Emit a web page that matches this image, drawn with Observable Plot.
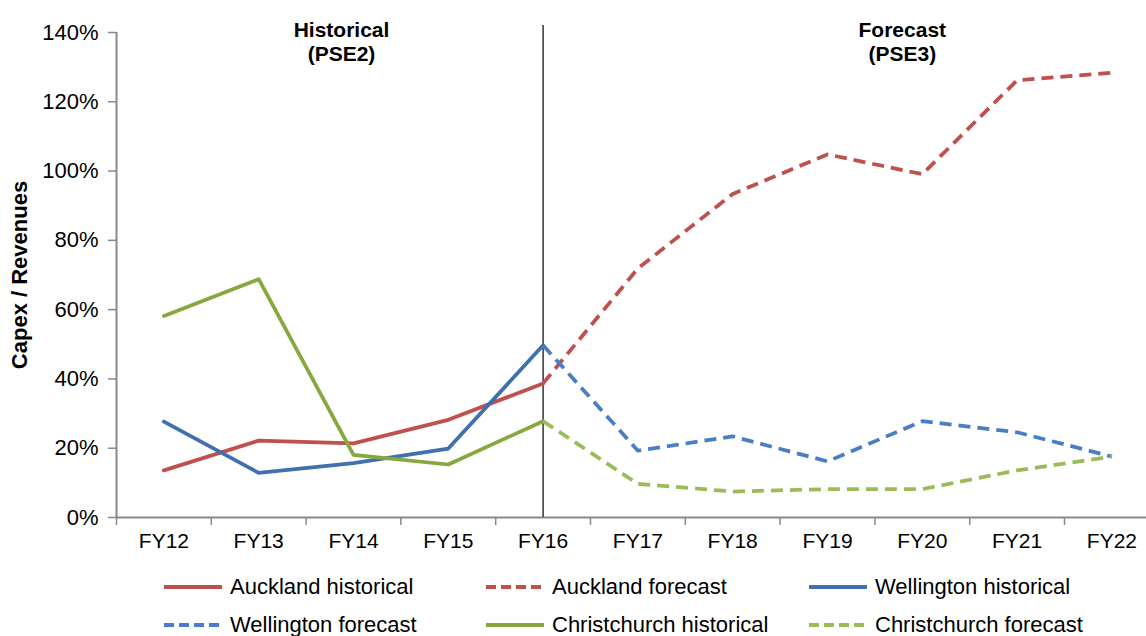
<!DOCTYPE html>
<html>
<head>
<meta charset="utf-8">
<script src="https://cdn.jsdelivr.net/npm/d3@7"></script>
<script src="https://cdn.jsdelivr.net/npm/@observablehq/plot@0.6"></script>
<style>
  body { margin: 0; background: #fff; font-family: "Liberation Sans", Arial, Helvetica, sans-serif; }
  #chart svg { display: block; }
  .legend {
    display: grid;
    grid-template-columns: 322px 323px auto;
    padding: 8px 0 0 163px;
    font-size: 22px;
    color: #000;
  }
  .legend .item { display: flex; align-items: center; height: 38px; }
  .legend svg { margin-right: 7px; flex: none; }
</style>
</head>
<body>
<div id="chart"></div>
<div class="legend" id="legend"></div>
<script>
// Fiscal years on the x axis
const categories = ["FY12", "FY13", "FY14", "FY15", "FY16", "FY17", "FY18", "FY19", "FY20", "FY21", "FY22"];
const historicalYears = ["FY12", "FY13", "FY14", "FY15", "FY16"];
const forecastYears = ["FY16", "FY17", "FY18", "FY19", "FY20", "FY21", "FY22"];

// Capex / revenues ratios
const aucklandHistorical = [0.136, 0.222, 0.214, 0.282, 0.387];
const aucklandForecast = [0.387, 0.719, 0.934, 1.048, 0.991, 1.262, 1.284];
const wellingtonHistorical = [0.277, 0.129, 0.157, 0.199, 0.497];
const wellingtonForecast = [0.497, 0.193, 0.234, 0.162, 0.278, 0.246, 0.176];
const christchurchHistorical = [0.582, 0.688, 0.181, 0.153, 0.278];
const christchurchForecast = [0.278, 0.097, 0.075, 0.082, 0.082, 0.136, 0.176];

// Y axis ticks
const yTicks = [0, 0.2, 0.4, 0.6, 0.8, 1.0, 1.2, 1.4];

const series = [
  {name: "Auckland historical", years: historicalYears, values: aucklandHistorical, color: "#C0504D", dash: null},
  {name: "Auckland forecast", years: forecastYears, values: aucklandForecast, color: "#C0504D", dash: "12,7"},
  {name: "Wellington historical", years: historicalYears, values: wellingtonHistorical, color: "#4170AE", dash: null},
  {name: "Wellington forecast", years: forecastYears, values: wellingtonForecast, color: "#4A7EC4", dash: "12,7"},
  {name: "Christchurch historical", years: historicalYears, values: christchurchHistorical, color: "#86A83E", dash: null},
  {name: "Christchurch forecast", years: forecastYears, values: christchurchForecast, color: "#9BBB59", dash: "12,7"}
];

const xLeft = 116;
const bandWidth = 94.8;
const axisGray = "#898989";

const lineMarks = series.map(s =>
  Plot.line(s.years.map((year, i) => ({year, value: s.values[i]})), {
    x: "year",
    y: "value",
    stroke: s.color,
    strokeWidth: 3.75,
    strokeDasharray: s.dash,
    strokeLinejoin: "round",
    strokeLinecap: s.dash ? "butt" : "round"
  })
);

const chart = Plot.plot({
  width: 1146,
  height: 560,
  marginLeft: xLeft,
  marginRight: 0,
  marginTop: 32,
  marginBottom: 43,
  style: {fontFamily: "'Liberation Sans', Arial, Helvetica, sans-serif", fontSize: "20px", color: "#000", background: "#fff"},
  x: {type: "band", domain: categories, range: [xLeft, xLeft + categories.length * bandWidth], padding: 0, round: false},
  y: {domain: [0, 1.4]},
  marks: [
    Plot.axisY(yTicks, {tickFormat: d3.format(".0%"), tickSize: 8, tickPadding: 10, stroke: axisGray, strokeWidth: 1.5, fill: "#000", label: null, fontSize: 22}),
    Plot.axisX({tickSize: 0, tickPadding: 16, label: null, fill: "#000", fontSize: 21}),
    Plot.axisX({tickSize: 8, tickFormat: () => "", label: null, stroke: axisGray, strokeWidth: 1.5, dx: -bandWidth / 2}),
    Plot.ruleY([0], {stroke: axisGray, strokeWidth: 2}),
    Plot.ruleX(["FY12"], {y1: 0, y2: 1.4, stroke: axisGray, strokeWidth: 2, dx: -bandWidth / 2}),
    Plot.ruleX(["FY16"], {y1: 0, y2: 1.42, stroke: "#333", strokeWidth: 1.5}),
    ...lineMarks,
    Plot.text([{year: "FY14", label: "Historical\n(PSE2)"}], {
      x: "year", text: "label", frameAnchor: "top", dy: 9, dx: -12,
      fontWeight: "bold", fontSize: 21, lineHeight: 1.15, lineAnchor: "middle"
    }),
    Plot.text([{year: "FY20", label: "Forecast\n(PSE3)"}], {
      x: "year", text: "label", frameAnchor: "top", dy: 9, dx: -20,
      fontWeight: "bold", fontSize: 21, lineHeight: 1.15, lineAnchor: "middle"
    }),
    Plot.text(["Capex / Revenues"], {
      text: d => d, frameAnchor: "left", dx: -97, rotate: -90,
      textAnchor: "middle", lineAnchor: "middle",
      fontWeight: "bold", fontSize: 22
    })
  ]
});
document.getElementById("chart").append(chart);

// Legend below the chart
const legend = d3.select("#legend");
for (const s of series) {
  const item = legend.append("div").attr("class", "item");
  const sw = item.append("svg").attr("width", 60).attr("height", 8);
  sw.append("line")
    .attr("x1", 1).attr("x2", 59).attr("y1", 4).attr("y2", 4)
    .attr("stroke", s.color).attr("stroke-width", 4)
    .attr("stroke-dasharray", s.dash ? "10,5" : null);
  item.append("span").text(s.name);
}
</script>
</body>
</html>
